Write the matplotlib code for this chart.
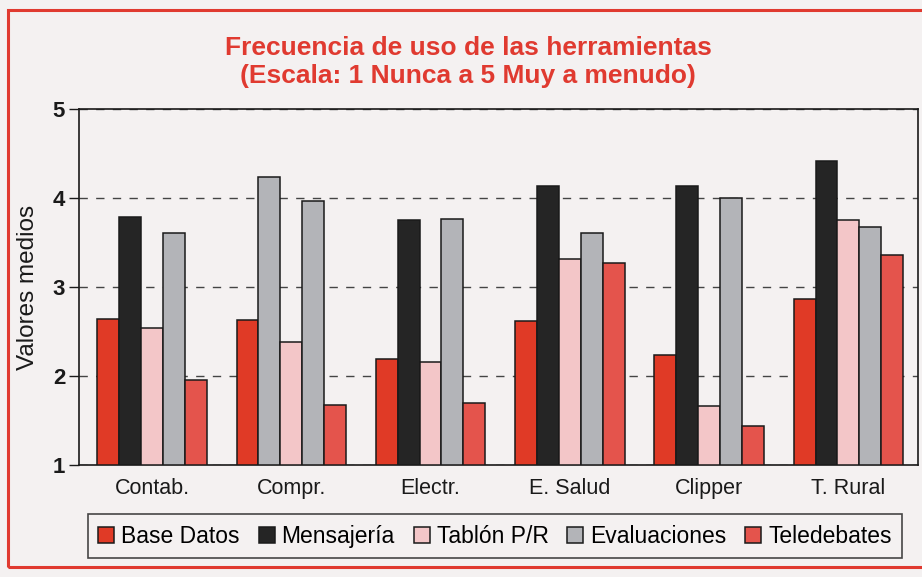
import numpy as np
import matplotlib.pyplot as plt
from matplotlib.patches import Rectangle

categorias = ['Contab.', 'Compr.', 'Electr.', 'E. Salud', 'Clipper', 'T. Rural']
series = ['Base Datos', 'Mensajería', 'Tablón P/R', 'Evaluaciones', 'Teledebates']

base_datos = [2.64, 2.63, 2.19, 2.62, 2.24, 2.87]
mensajeria = [3.79, 4.24, 3.75, 4.13, 4.13, 4.42]
tablon = [2.54, 2.38, 2.16, 3.31, 1.66, 3.75]
evaluaciones = [3.61, 3.97, 3.77, 3.61, 4.00, 3.67]
teledebates = [1.96, 1.67, 1.70, 3.27, 1.44, 3.36]

valores = [base_datos, mensajeria, tablon, evaluaciones, teledebates]
colores = ['#e03a26', '#252525', '#f3c6c8', '#b3b4b8', '#e4544c']

fondo = '#f4f1f1'
rojo = '#e03a30'
plt.rcParams['font.family'] = ['Liberation Sans', 'DejaVu Sans']

fig = plt.figure(figsize=(9.22, 5.77), dpi=100, facecolor=fondo)
ax = fig.add_axes([0.0857, 0.194, 0.91, 0.617], facecolor=fondo)

x = np.arange(len(categorias))
ancho = 0.157
for i, (nombre, vals) in enumerate(zip(series, valores)):
    cols = [colores[i]] * len(vals)
    if nombre == 'Mensajería':
        # en el original la barra de Compr. sale impresa en gris
        cols[1] = colores[3]
    ax.bar(x + (i - 2) * ancho, np.array(vals) - 1, bottom=1, width=ancho,
           color=cols, edgecolor='#1a1a1a', linewidth=1.1, label=nombre,
           zorder=3)

ax.set_xlim(-0.524, 5.5)
ax.set_ylim(1, 5)
ax.set_yticks([1, 2, 3, 4, 5])
ax.set_xticks(x)
ax.set_xticklabels(categorias, fontsize=15.5)
ax.tick_params(axis='x', length=0, pad=9, colors='#1a1a1a')
ax.tick_params(axis='y', length=7, width=1, pad=3, labelsize=16, colors='#1a1a1a')
for t in ax.get_yticklabels():
    t.set_fontweight('bold')
ax.yaxis.grid(True, linestyle=(0, (6, 6)), color='#444444', linewidth=1.0, zorder=1)
for s in ax.spines.values():
    s.set_color('#1a1a1a')
    s.set_linewidth(1.2)
ax.set_ylabel('Valores medios', fontsize=17.5, labelpad=10, color='#1a1a1a')

fig.text(0.508, 0.917, 'Frecuencia de uso de las herramientas', ha='center', va='center',
         color=rojo, fontsize=19, fontweight='bold')
fig.text(0.508, 0.868, '(Escala: 1 Nunca a 5 Muy a menudo)', ha='center', va='center',
         color=rojo, fontsize=19, fontweight='bold')

leg = fig.legend(loc='lower left', bbox_to_anchor=(88 / 922, 19 / 577, 814 / 922, 45 / 577),
                 mode='expand', ncol=5, frameon=True, fancybox=False,
                 handlelength=0.7, handleheight=0.7, handletextpad=0.3,
                 borderaxespad=0, borderpad=0.45, prop={'size': 16.5})
leg.get_frame().set_edgecolor('#1a1a1a')
leg.get_frame().set_linewidth(1.2)
leg.get_frame().set_facecolor(fondo)

fig.patches.append(Rectangle((8 / 922, 10 / 577), 1.0, 557 / 577, transform=fig.transFigure,
                             fill=False, edgecolor=rojo, linewidth=2.2))

fig.savefig('out.png', dpi=100, facecolor=fondo)
